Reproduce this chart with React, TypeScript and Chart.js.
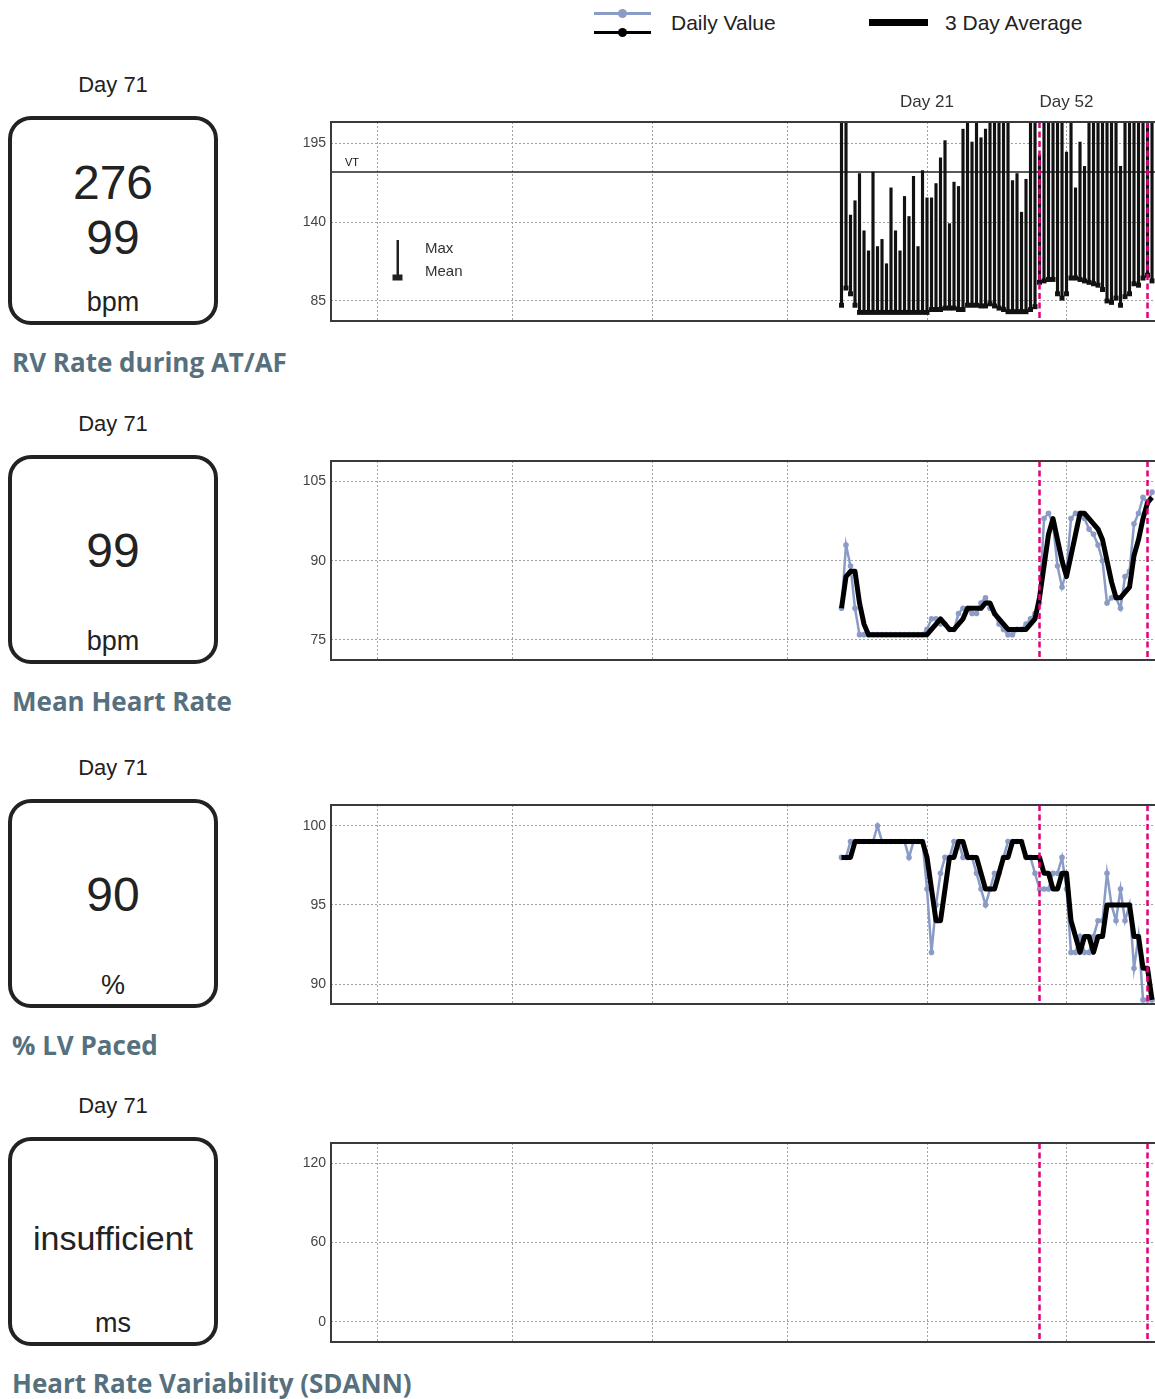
import React, { useEffect, useRef } from 'react';
import { Chart, registerables } from 'chart.js';

Chart.register(...registerables);

const SANS = "'Liberation Sans', Arial, Helvetica, sans-serif";
const TITLE_FONT = "'Open Sans', Lato, 'Noto Sans', sans-serif";
const BLUE = '#8a9cc6';
const MAGENTA = '#e3007b';
const GRID = '#a0a0a0';

// ---------- data ----------
const days = [
  2, 3, 4, 5, 6, 7, 8, 9, 10, 11, 12, 13, 14, 15, 16, 17, 18, 19, 20, 21,
  22, 23, 24, 25, 26, 27, 28, 29, 30, 31, 32, 33, 34, 35, 36, 37, 38, 39, 40, 41,
  42, 43, 44, 45, 46, 47, 48, 49, 50, 51, 52, 53, 54, 55, 56, 57, 58, 59, 60, 61,
  62, 63, 64, 65, 66, 67, 68, 69, 70, 71,
];

// RV rate during AT/AF (bpm): daily maximum and mean
const rvMax = [
  235, 250, 145, 155, 174, 134, 120, 175, 123, 128,
  111, 164, 134, 120, 158, 144, 172, 123, 176, 157,
  157, 167, 185, 197, 139, 168, 165, 205, 228, 196,
  240, 199, 205, 232, 245, 238, 251, 229, 169, 174,
  147, 170, 226, 233, 187, 241, 236, 252, 230, 244,
  189, 237, 164, 196, 179, 248, 233, 241, 227, 239,
  252, 231, 179, 244, 236, 229, 250, 238, 245, 276,
];
const rvMean = [
  82, 94, 90, 82, 77, 77, 77, 77, 77, 77,
  77, 77, 77, 77, 77, 77, 77, 77, 77, 77,
  79, 79, 79, 80, 80, 80, 79, 79, 82, 82,
  82, 81.5, 81.5, 83, 81.5, 80, 79, 77.5, 77.5, 77.5,
  77.5, 77.5, 79, 81, 98, 99, 100, 100, 90, 87,
  90, 101, 101, 100, 99, 98, 97, 96, 93, 85,
  84, 87, 82, 88, 90, 97, 96, 101, 103, 99,
];

// Mean heart rate (bpm)
const hrDaily = [
  81, 93, 89, 81, 76, 76, 76, 76, 76, 76,
  76, 76, 76, 76, 76, 76, 76, 76, 76, 77,
  79, 79, 78, 78, 77, 77, 80, 81, 81, 80,
  80, 82, 83, 81, 80, 78, 77, 76, 76, 77,
  77, 78, 79, 80, 82, 98, 99, 97, 89, 85,
  88, 98, 99, 99, 98, 96, 95, 93, 90, 82,
  83, 83, 81, 87, 88, 97, 99, 102, 101, 103,
];
const hr3Day = [
  81, 87, 88, 88, 82, 78, 76, 76, 76, 76,
  76, 76, 76, 76, 76, 76, 76, 76, 76, 76,
  77, 78, 79, 78, 77, 77, 78, 79, 81, 81,
  81, 81, 82, 82, 80, 79, 78, 77, 77, 77,
  77, 77, 78, 79, 83, 89, 95, 98, 94, 90,
  87, 91, 95, 99, 99, 98, 97, 96, 94, 90,
  86, 83, 83, 84, 85, 91, 94, 98, 101, 102,
];

// % LV paced
const lvDaily = [
  98, 98, 99, 99, 99, 99, 99, 99, 100, 99,
  99, 99, 99, 99, 99, 98, 99, 99, 99, 96,
  92, 95, 97, 98, 98, 99, 99, 98, 98, 98,
  97, 96, 95, 96, 97, 97, 98, 99, 99, 99,
  99, 98, 98, 97, 96, 96, 96, 97, 97, 98,
  96, 92, 92, 93, 92, 92, 93, 94, 94, 97,
  95, 94, 96, 94, 95, 91, 93, 89, 89, 89,
];
const lv3Day = [
  98, 98, 98, 99, 99, 99, 99, 99, 99, 99,
  99, 99, 99, 99, 99, 99, 99, 99, 99, 98,
  96, 94, 94, 96, 98, 98, 99, 99, 98, 98,
  98, 97, 96, 96, 96, 97, 98, 98, 99, 99,
  99, 98, 98, 98, 98, 97, 97, 96, 96, 97,
  97, 94, 93, 92, 93, 93, 92, 93, 93, 95,
  95, 95, 95, 95, 95, 93, 93, 91, 91, 89,
];

// Heart rate variability (SDANN, ms): insufficient data
const hrvDaily: number[] = [];

const monthTicks = [-101, -71, -40, -10, 21, 52];
const labeledDays = [21, 52];
const eventDays = [46, 70];
const vtThreshold = 175;

const rvTicks = [85, 140, 195];
const hrTicks = [75, 90, 105];
const lvTicks = [90, 95, 100];
const hrvTicks = [0, 60, 120];

// ---------- layout constants ----------
const X_MIN = -111.44;
const X_MAX = 79.44;
const CANVAS_LEFT = 290;
const CANVAS_W = 900;
const AXIS_TOP_H = 30;
const AREA_H = 199;
const PAD_BOTTOM = 3;
const CANVAS_H = AXIS_TOP_H + AREA_H + PAD_BOTTOM;

// ---------- plugins ----------
const eventLinesPlugin = {
  id: 'eventLines',
  afterDatasetsDraw(chart: any) {
    const { ctx, chartArea: a, scales } = chart;
    ctx.save();
    ctx.strokeStyle = MAGENTA;
    ctx.lineWidth = 2.5;
    ctx.setLineDash([6, 3.5]);
    eventDays.forEach((d) => {
      const x = scales.x.getPixelForValue(d);
      ctx.beginPath();
      ctx.moveTo(x, a.top);
      ctx.lineTo(x, a.bottom);
      ctx.stroke();
    });
    ctx.restore();
  },
};

const framePlugin = {
  id: 'frame',
  afterDraw(chart: any) {
    const { ctx, chartArea: a } = chart;
    ctx.save();
    ctx.strokeStyle = '#3a3a3a';
    ctx.lineWidth = 2;
    ctx.strokeRect(a.left, a.top, a.right - a.left, a.bottom - a.top);
    ctx.restore();
  },
};

const vtPlugin = {
  id: 'vtLine',
  beforeDatasetsDraw(chart: any) {
    const { ctx, chartArea: a, scales } = chart;
    const y = scales.y.getPixelForValue(vtThreshold);
    ctx.save();
    ctx.strokeStyle = '#222';
    ctx.lineWidth = 1.5;
    ctx.beginPath();
    ctx.moveTo(a.left, y);
    ctx.lineTo(a.right, y);
    ctx.stroke();
    ctx.fillStyle = '#111';
    ctx.font = `11px ${SANS}`;
    ctx.textBaseline = 'middle';
    ctx.fillText('VT', a.left + 14, y - 9);
    ctx.restore();
  },
};

const maxMeanPlugin = {
  id: 'maxMean',
  afterDatasetsDraw(chart: any) {
    const { ctx, chartArea: a } = chart;
    ctx.save();
    ctx.fillStyle = '#222';
    ctx.fillRect(a.left + 65.5, a.top + 118, 2.5, 37);
    ctx.fillRect(a.left + 61.5, a.top + 152.5, 10, 6);
    ctx.fillStyle = '#333';
    ctx.font = `15px ${SANS}`;
    ctx.textBaseline = 'middle';
    ctx.fillText('Max', a.left + 94, a.top + 127);
    ctx.fillText('Mean', a.left + 94, a.top + 149.5);
    ctx.restore();
  },
};

function baseOptions(yMin: number, yMax: number, yTicks: number[], showDays: boolean): any {
  return {
    responsive: false,
    maintainAspectRatio: false,
    animation: false,
    events: [],
    layout: { autoPadding: false, padding: { left: 0, right: 0, top: 0, bottom: PAD_BOTTOM } },
    plugins: { legend: { display: false }, tooltip: { enabled: false } },
    scales: {
      x: {
        type: 'linear',
        position: 'top',
        min: X_MIN,
        max: X_MAX,
        offset: false,
        afterBuildTicks: (axis: any) => {
          axis.ticks = monthTicks.map((v) => ({ value: v }));
        },
        afterFit: (axis: any) => {
          axis.height = AXIS_TOP_H;
          axis.paddingLeft = 0;
          axis.paddingRight = 0;
        },
        grid: { color: GRID, lineWidth: 1, drawTicks: false, offset: false },
        border: { display: false, dash: [2, 2] },
        ticks: {
          display: showDays,
          autoSkip: false,
          maxRotation: 0,
          padding: 9,
          color: '#333',
          font: { size: 17, family: SANS },
          callback: (v: number) => (labeledDays.includes(v) ? `Day ${v}` : ''),
        },
      },
      y: {
        type: 'linear',
        min: yMin,
        max: yMax,
        afterBuildTicks: (axis: any) => {
          axis.ticks = yTicks.map((v) => ({ value: v }));
        },
        afterFit: (axis: any) => {
          axis.width = 41;
          axis.paddingTop = 0;
          axis.paddingBottom = 0;
        },
        grid: { color: GRID, lineWidth: 1, drawTicks: false },
        border: { display: false, dash: [2, 2] },
        ticks: { padding: 5, color: '#444', font: { size: 14, family: SANS } },
      },
    },
  };
}

function rvConfig(): any {
  return {
    type: 'bar',
    data: {
      datasets: [
        {
          type: 'line',
          data: days.map((d, i) => ({ x: d, y: rvMean[i] })),
          showLine: false,
          pointStyle: 'rect',
          pointRadius: 3.5,
          pointHoverRadius: 3.5,
          pointBackgroundColor: '#111',
          pointBorderWidth: 0,
          borderColor: '#111',
          order: 0,
        },
        {
          type: 'bar',
          data: days.map((d, i) => ({ x: d, y: [rvMean[i], rvMax[i]] })),
          backgroundColor: '#111',
          barThickness: 2.5,
          order: 1,
        },
      ],
    },
    options: baseOptions(71, 210, rvTicks, true),
    plugins: [vtPlugin, maxMeanPlugin, eventLinesPlugin, framePlugin],
  };
}

function trendConfig(daily: number[], avg: number[], yMin: number, yMax: number, ticks: number[]): any {
  return {
    type: 'line',
    data: {
      datasets: [
        {
          data: days.map((d, i) => ({ x: d, y: avg[i] })),
          borderColor: '#000',
          borderWidth: 5,
          pointRadius: 0,
          borderJoinStyle: 'round',
          tension: 0,
          order: 0,
        },
        {
          data: days.map((d, i) => ({ x: d, y: daily[i] })),
          borderColor: BLUE,
          borderWidth: 2.5,
          pointRadius: 2.8,
          pointBackgroundColor: BLUE,
          pointBorderWidth: 0,
          tension: 0,
          order: 1,
        },
      ],
    },
    options: baseOptions(yMin, yMax, ticks, false),
    plugins: [eventLinesPlugin, framePlugin],
  };
}

function hrvConfig(): any {
  return {
    type: 'line',
    data: {
      datasets: [
        {
          data: hrvDaily.map((v, i) => ({ x: days[i], y: v })),
          borderColor: BLUE,
          borderWidth: 2.5,
          pointRadius: 2.8,
        },
      ],
    },
    options: baseOptions(-15.4, 135.4, hrvTicks, false),
    plugins: [eventLinesPlugin, framePlugin],
  };
}

function PanelChart({ plotTop, make }: { plotTop: number; make: () => any }) {
  const ref = useRef<HTMLCanvasElement>(null);
  useEffect(() => {
    const chart = new Chart(ref.current as HTMLCanvasElement, make());
    return () => chart.destroy();
  }, []);
  return (
    <canvas
      ref={ref}
      width={CANVAS_W}
      height={CANVAS_H}
      style={{
        position: 'absolute',
        left: CANVAS_LEFT,
        top: plotTop - AXIS_TOP_H,
        width: CANVAS_W,
        height: CANVAS_H,
      }}
    />
  );
}

type CardProps = {
  plotTop: number;
  values: string[];
  unit: string;
  title: string;
  small?: boolean;
};

function Card({ plotTop, values, unit, title, small }: CardProps) {
  const text = (top: number, size: number, content: string, key?: string) => (
    <div
      key={key}
      style={{
        position: 'absolute',
        left: 8,
        width: 210,
        top: plotTop + top,
        fontSize: size,
        lineHeight: `${size}px`,
        textAlign: 'center',
        color: '#222',
        fontFamily: SANS,
        whiteSpace: 'nowrap',
      }}
    >
      {content}
    </div>
  );
  let valueEls: any[] = [];
  if (values.length === 2) {
    valueEls = [text(37.4, 48, values[0], 'a'), text(92.4, 48, values[1], 'b')];
  } else if (small) {
    valueEls = [text(78.2, 34, values[0], 'a')];
  } else {
    valueEls = [text(66.4, 48, values[0], 'a')];
  }
  return (
    <>
      {text(-48.3, 22, 'Day 71')}
      <div
        style={{
          position: 'absolute',
          left: 8,
          top: plotTop - 6,
          width: 210,
          height: 209,
          boxSizing: 'border-box',
          border: '4px solid #222',
          borderRadius: 23,
        }}
      />
      {valueEls}
      {text(166.8, 27, unit)}
      <div
        style={{
          position: 'absolute',
          left: 12,
          top: plotTop + 227,
          fontSize: 26,
          lineHeight: '26px',
          fontWeight: 700,
          fontFamily: TITLE_FONT,
          color: '#56707e',
          whiteSpace: 'nowrap',
        }}
      >
        {title}
      </div>
    </>
  );
}

function TopLegend() {
  const abs = (s: React.CSSProperties): React.CSSProperties => ({ position: 'absolute', ...s });
  return (
    <>
      <div style={abs({ left: 594, top: 11.5, width: 57, height: 3, background: BLUE })} />
      <div style={abs({ left: 617.5, top: 8.5, width: 9, height: 9, borderRadius: '50%', background: BLUE })} />
      <div style={abs({ left: 594, top: 30.5, width: 57, height: 3, background: '#000' })} />
      <div style={abs({ left: 617.5, top: 27.5, width: 9, height: 9, borderRadius: '50%', background: '#000' })} />
      <div style={abs({ left: 671, top: 11.7, fontSize: 21, lineHeight: '21px', color: '#222', fontFamily: SANS, whiteSpace: 'nowrap' })}>
        Daily Value
      </div>
      <div style={abs({ left: 869, top: 18.5, width: 59, height: 7, background: '#000' })} />
      <div style={abs({ left: 945, top: 11.7, fontSize: 21, lineHeight: '21px', color: '#222', fontFamily: SANS, whiteSpace: 'nowrap' })}>
        3 Day Average
      </div>
    </>
  );
}

const panels = [
  { plotTop: 122, values: ['276', '99'], unit: 'bpm', title: 'RV Rate during AT/AF', make: rvConfig },
  { plotTop: 461, values: ['99'], unit: 'bpm', title: 'Mean Heart Rate', make: () => trendConfig(hrDaily, hr3Day, 71.2, 108.9, hrTicks) },
  { plotTop: 805, values: ['90'], unit: '%', title: '% LV Paced', make: () => trendConfig(lvDaily, lv3Day, 88.74, 101.31, lvTicks) },
  { plotTop: 1143, values: ['insufficient'], unit: 'ms', title: 'Heart Rate Variability (SDANN)', make: hrvConfig, small: true },
];

export default function App() {
  return (
    <div
      style={{
        position: 'absolute',
        left: 0,
        top: 0,
        width: 1155,
        height: 1399,
        overflow: 'hidden',
        background: '#fff',
        fontFamily: SANS,
      }}
    >
      <TopLegend />
      {panels.map((p, i) => (
        <React.Fragment key={i}>
          <Card plotTop={p.plotTop} values={p.values} unit={p.unit} title={p.title} small={(p as any).small} />
          <PanelChart plotTop={p.plotTop} make={p.make} />
        </React.Fragment>
      ))}
    </div>
  );
}
